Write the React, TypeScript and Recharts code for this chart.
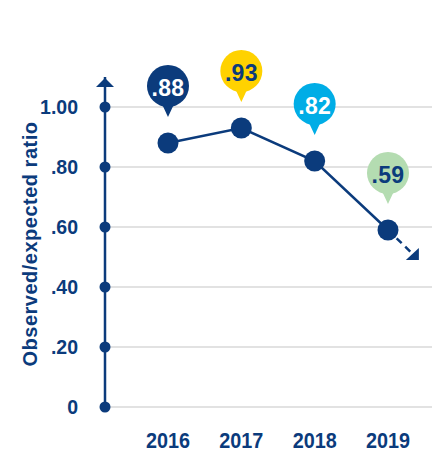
import React from 'react';
import { LineChart, Line, XAxis, YAxis, ReferenceLine, ReferenceDot } from 'recharts';

const years = ['2016', '2017', '2018', '2019'];
const ratios = [0.88, 0.93, 0.82, 0.59];
const bubbleColors = ['#0b3b7c', '#ffd200', '#00ade6', '#b4dcb1'];
const bubbleTextColors = ['#ffffff', '#0b3b7c', '#ffffff', '#0b3b7c'];
const yTicks = [0, 0.2, 0.4, 0.6, 0.8, 1.0];
const yTickLabels = ['0', '.20', '.40', '.60', '.80', '1.00'];
const trendEnd = { x: 3.38, value: 0.5 };
const yAxisTitle = 'Observed/expected ratio';

const NAVY = '#0b3b7c';
const FONT = '"Liberation Sans", Arial, sans-serif';
const X_DOMAIN: [number, number] = [-0.859, 3.6];
const Y_MAX = 1.1;

const data = years.map((year, i) => ({ x: i, value: ratios[i], year }));
const trendData = [
  { x: years.length - 1, value: ratios[ratios.length - 1] },
  { x: trendEnd.x, value: trendEnd.value },
];

const fmt = (v: number) => v.toFixed(2).replace(/^0/, '');

const Bubble = (props: any) => {
  const { x, y, value, index } = props;
  if (x == null || y == null) return null;
  const cy = y - 57;
  const r = 21;
  const tip = y - 26;
  return (
    <g>
      <path d={`M ${x - 7} ${cy + 16} L ${x} ${tip} L ${x + 7} ${cy + 16} Z`} fill={bubbleColors[index]} />
      <circle cx={x} cy={cy} r={r} fill={bubbleColors[index]} />
      <text
        x={x}
        y={cy + 10}
        textAnchor="middle"
        fontFamily={FONT}
        fontWeight="bold"
        fontSize={23}
        letterSpacing={0.3}
        fill={bubbleTextColors[index]}
      >
        {fmt(value)}
      </text>
    </g>
  );
};

const YTick = (props: any) => {
  const { x, y, index } = props;
  return (
    <g>
      <circle cx={x} cy={y} r={5.5} fill={NAVY} />
      <text x={x - 27} y={y + 7} textAnchor="end" fontFamily={FONT} fontWeight="bold" fontSize={19.5} fill={NAVY}>
        {yTickLabels[index]}
      </text>
    </g>
  );
};

const XTick = (props: any) => {
  const { x, y, payload } = props;
  return (
    <text
      transform={`translate(${x} ${y + 41}) scale(0.9 1)`}
      x={0}
      y={0}
      textAnchor="middle"
      fontFamily={FONT}
      fontWeight="bold"
      fontSize={22}
      fill={NAVY}
    >
      {years[payload.value]}
    </text>
  );
};

const YTitle = (props: any) => {
  const vb = props.viewBox || {};
  const cx = (vb.x ?? 0) + 30;
  const cy = (vb.y ?? 0) + (vb.height ?? 0) / 2 + 2;
  return (
    <text
      x={cx}
      y={cy}
      transform={`rotate(-90 ${cx} ${cy})`}
      textAnchor="middle"
      dominantBaseline="central"
      fontFamily={FONT}
      fontWeight="bold"
      fontSize={20}
      letterSpacing={0.5}
      fill={NAVY}
    >
      {yAxisTitle}
    </text>
  );
};

const TopArrow = (props: any) => {
  const { cx, cy } = props;
  return <path d={`M ${cx} ${cy + 1} L ${cx - 9} ${cy + 10} L ${cx + 9} ${cy + 10} Z`} fill={NAVY} />;
};

const TrendDot = (props: any) => {
  const { cx, cy, index } = props;
  if (index !== 1) return <g key={`td-${index}`} />;
  const px = cx + 3;
  const py = cy + 3;
  return <path key={`td-${index}`} d={`M ${px} ${py} L ${px - 13} ${py} L ${px} ${py - 12} Z`} fill={NAVY} />;
};

const MainDot = (props: any) => {
  const { cx, cy, index } = props;
  return <circle key={`md-${index}`} cx={cx} cy={cy} r={10.5} fill={NAVY} />;
};

export default function App() {
  return (
    <div style={{ position: 'absolute', left: 0, top: 0 }}>
      <LineChart width={432} height={452} margin={{ top: 77, right: 0, bottom: 0, left: 0 }}>
        <XAxis
          dataKey="x"
          type="number"
          domain={X_DOMAIN}
          ticks={[0, 1, 2, 3]}
          axisLine={false}
          tickLine={false}
          tickSize={0}
          tickMargin={0}
          height={45}
          tick={<XTick />}
          allowDataOverflow
        />
        <YAxis
          type="number"
          domain={[0, Y_MAX]}
          ticks={yTicks}
          width={105}
          axisLine={false}
          tickLine={false}
          tickSize={0}
          tickMargin={0}
          tick={false}
          interval={0}
          label={<YTitle />}
        />
        {yTicks.map((t) => (
          <ReferenceLine key={`g-${t}`} y={t} stroke="#d9d9d9" strokeWidth={1.5} ifOverflow="visible" />
        ))}
        <ReferenceLine
          segment={[
            { x: X_DOMAIN[0], y: 0 },
            { x: X_DOMAIN[0], y: Y_MAX },
          ]}
          stroke={NAVY}
          strokeWidth={2.5}
          ifOverflow="visible"
        />
        <ReferenceDot x={X_DOMAIN[0]} y={Y_MAX} ifOverflow="visible" shape={<TopArrow />} />
        {yTicks.map((t, i) => (
          <ReferenceDot
            key={`yt-${t}`}
            x={X_DOMAIN[0]}
            y={t}
            ifOverflow="visible"
            shape={(p: any) => <YTick x={p.cx} y={p.cy} index={i} />}
          />
        ))}
        <Line
          data={trendData}
          dataKey="value"
          stroke={NAVY}
          strokeWidth={2.5}
          strokeDasharray="7 5"
          dot={<TrendDot />}
          activeDot={false}
          isAnimationActive={false}
        />
        <Line
          data={data}
          dataKey="value"
          stroke={NAVY}
          strokeWidth={2.5}
          dot={<MainDot />}
          activeDot={false}
          isAnimationActive={false}
          label={<Bubble />}
        />
      </LineChart>
    </div>
  );
}
